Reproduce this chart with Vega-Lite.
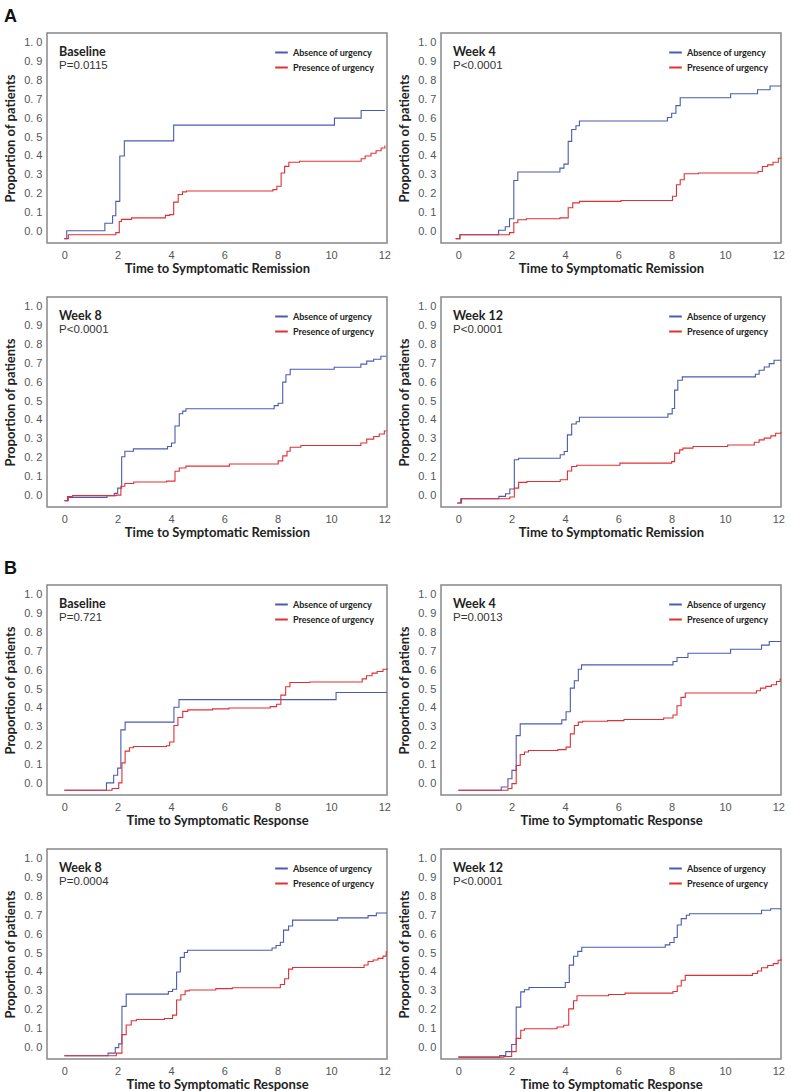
{
"$schema": "https://vega.github.io/schema/vega-lite/v6.json",
"padding": {"left": 3, "top": 8, "right": 3, "bottom": 3},
"background": "white",
"spacing": 20,
"resolve": {"scale": {"color": "independent"}, "legend": {"color": "independent"}},
"datasets": {
"info": [
{"panel":"A1","week":"Baseline","pval":"P=0.0115"},
{"panel":"A2","week":"Week 4","pval":"P<0.0001"},
{"panel":"A3","week":"Week 8","pval":"P<0.0001"},
{"panel":"A4","week":"Week 12","pval":"P<0.0001"},
{"panel":"B1","week":"Baseline","pval":"P=0.721"},
{"panel":"B2","week":"Week 4","pval":"P=0.0013"},
{"panel":"B3","week":"Week 8","pval":"P=0.0004"},
{"panel":"B4","week":"Week 12","pval":"P<0.0001"}
],
"km": [
{"panel":"A1","group":"Absence","t":0,"p":-0.037},{"panel":"A1","group":"Absence","t":0.09,"p":0.005},{"panel":"A1","group":"Absence","t":1.52,"p":0.044},{"panel":"A1","group":"Absence","t":1.81,"p":0.084},{"panel":"A1","group":"Absence","t":1.93,"p":0.16},{"panel":"A1","group":"Absence","t":2.08,"p":0.40},{"panel":"A1","group":"Absence","t":2.25,"p":0.48},{"panel":"A1","group":"Absence","t":4.1,"p":0.563},{"panel":"A1","group":"Absence","t":10.13,"p":0.60},{"panel":"A1","group":"Absence","t":11.13,"p":0.64},{"panel":"A1","group":"Absence","t":12.02,"p":0.64},
{"panel":"A1","group":"Presence","t":0,"p":-0.037},{"panel":"A1","group":"Presence","t":0.15,"p":-0.016},{"panel":"A1","group":"Presence","t":1.93,"p":-0.005},{"panel":"A1","group":"Presence","t":2.06,"p":0.054},{"panel":"A1","group":"Presence","t":2.14,"p":0.065},{"panel":"A1","group":"Presence","t":2.52,"p":0.073},{"panel":"A1","group":"Presence","t":3.79,"p":0.086},{"panel":"A1","group":"Presence","t":3.95,"p":0.09},{"panel":"A1","group":"Presence","t":4.1,"p":0.156},{"panel":"A1","group":"Presence","t":4.27,"p":0.196},{"panel":"A1","group":"Presence","t":4.43,"p":0.21},{"panel":"A1","group":"Presence","t":4.58,"p":0.215},{"panel":"A1","group":"Presence","t":7.82,"p":0.222},{"panel":"A1","group":"Presence","t":7.97,"p":0.24},{"panel":"A1","group":"Presence","t":8.13,"p":0.31},{"panel":"A1","group":"Presence","t":8.26,"p":0.345},{"panel":"A1","group":"Presence","t":8.42,"p":0.367},{"panel":"A1","group":"Presence","t":8.82,"p":0.372},{"panel":"A1","group":"Presence","t":11.13,"p":0.385},{"panel":"A1","group":"Presence","t":11.28,"p":0.40},{"panel":"A1","group":"Presence","t":11.5,"p":0.414},{"panel":"A1","group":"Presence","t":11.69,"p":0.428},{"panel":"A1","group":"Presence","t":11.88,"p":0.442},{"panel":"A1","group":"Presence","t":12.02,"p":0.455},
{"panel":"A2","group":"Absence","t":-0.1,"p":-0.037},{"panel":"A2","group":"Absence","t":0.06,"p":-0.016},{"panel":"A2","group":"Absence","t":1.51,"p":0.007},{"panel":"A2","group":"Absence","t":1.76,"p":0.026},{"panel":"A2","group":"Absence","t":1.92,"p":0.068},{"panel":"A2","group":"Absence","t":2.08,"p":0.27},{"panel":"A2","group":"Absence","t":2.23,"p":0.315},{"panel":"A2","group":"Absence","t":3.81,"p":0.336},{"panel":"A2","group":"Absence","t":3.96,"p":0.357},{"panel":"A2","group":"Absence","t":4.12,"p":0.477},{"panel":"A2","group":"Absence","t":4.25,"p":0.54},{"panel":"A2","group":"Absence","t":4.41,"p":0.56},{"panel":"A2","group":"Absence","t":4.54,"p":0.585},{"panel":"A2","group":"Absence","t":7.84,"p":0.603},{"panel":"A2","group":"Absence","t":8.0,"p":0.626},{"panel":"A2","group":"Absence","t":8.16,"p":0.666},{"panel":"A2","group":"Absence","t":8.32,"p":0.708},{"panel":"A2","group":"Absence","t":10.21,"p":0.729},{"panel":"A2","group":"Absence","t":11.22,"p":0.75},{"panel":"A2","group":"Absence","t":11.69,"p":0.77},{"panel":"A2","group":"Absence","t":12.1,"p":0.77},
{"panel":"A2","group":"Presence","t":-0.1,"p":-0.037},{"panel":"A2","group":"Presence","t":0.06,"p":-0.016},{"panel":"A2","group":"Presence","t":1.92,"p":-0.005},{"panel":"A2","group":"Presence","t":2.08,"p":0.047},{"panel":"A2","group":"Presence","t":2.23,"p":0.063},{"panel":"A2","group":"Presence","t":2.55,"p":0.068},{"panel":"A2","group":"Presence","t":3.81,"p":0.073},{"panel":"A2","group":"Presence","t":4.12,"p":0.126},{"panel":"A2","group":"Presence","t":4.29,"p":0.152},{"panel":"A2","group":"Presence","t":4.54,"p":0.16},{"panel":"A2","group":"Presence","t":6.1,"p":0.165},{"panel":"A2","group":"Presence","t":8.03,"p":0.187},{"panel":"A2","group":"Presence","t":8.18,"p":0.248},{"panel":"A2","group":"Presence","t":8.32,"p":0.274},{"panel":"A2","group":"Presence","t":8.47,"p":0.306},{"panel":"A2","group":"Presence","t":9.0,"p":0.31},{"panel":"A2","group":"Presence","t":11.24,"p":0.318},{"panel":"A2","group":"Presence","t":11.4,"p":0.344},{"panel":"A2","group":"Presence","t":11.6,"p":0.353},{"panel":"A2","group":"Presence","t":11.8,"p":0.367},{"panel":"A2","group":"Presence","t":12.0,"p":0.388},{"panel":"A2","group":"Presence","t":12.1,"p":0.39},
{"panel":"A3","group":"Absence","t":0,"p":-0.027},{"panel":"A3","group":"Absence","t":0.15,"p":-0.009},{"panel":"A3","group":"Absence","t":1.6,"p":0.0},{"panel":"A3","group":"Absence","t":1.87,"p":0.012},{"panel":"A3","group":"Absence","t":2.0,"p":0.04},{"panel":"A3","group":"Absence","t":2.15,"p":0.206},{"panel":"A3","group":"Absence","t":2.27,"p":0.235},{"panel":"A3","group":"Absence","t":2.59,"p":0.247},{"panel":"A3","group":"Absence","t":3.87,"p":0.26},{"panel":"A3","group":"Absence","t":4.02,"p":0.278},{"panel":"A3","group":"Absence","t":4.15,"p":0.368},{"panel":"A3","group":"Absence","t":4.31,"p":0.433},{"panel":"A3","group":"Absence","t":4.44,"p":0.447},{"panel":"A3","group":"Absence","t":4.56,"p":0.459},{"panel":"A3","group":"Absence","t":7.87,"p":0.476},{"panel":"A3","group":"Absence","t":8.02,"p":0.488},{"panel":"A3","group":"Absence","t":8.19,"p":0.60},{"panel":"A3","group":"Absence","t":8.31,"p":0.639},{"panel":"A3","group":"Absence","t":8.47,"p":0.668},{"panel":"A3","group":"Absence","t":10.12,"p":0.679},{"panel":"A3","group":"Absence","t":11.12,"p":0.695},{"panel":"A3","group":"Absence","t":11.34,"p":0.711},{"panel":"A3","group":"Absence","t":11.6,"p":0.721},{"panel":"A3","group":"Absence","t":11.87,"p":0.737},{"panel":"A3","group":"Absence","t":12.06,"p":0.74},
{"panel":"A3","group":"Presence","t":0,"p":-0.027},{"panel":"A3","group":"Presence","t":0.12,"p":-0.005},{"panel":"A3","group":"Presence","t":0.31,"p":0.0},{"panel":"A3","group":"Presence","t":1.94,"p":0.003},{"panel":"A3","group":"Presence","t":2.12,"p":0.05},{"panel":"A3","group":"Presence","t":2.27,"p":0.064},{"panel":"A3","group":"Presence","t":2.6,"p":0.072},{"panel":"A3","group":"Presence","t":3.84,"p":0.077},{"panel":"A3","group":"Presence","t":4.15,"p":0.129},{"panel":"A3","group":"Presence","t":4.31,"p":0.146},{"panel":"A3","group":"Presence","t":4.56,"p":0.156},{"panel":"A3","group":"Presence","t":6.19,"p":0.167},{"panel":"A3","group":"Presence","t":8.02,"p":0.184},{"panel":"A3","group":"Presence","t":8.19,"p":0.21},{"panel":"A3","group":"Presence","t":8.35,"p":0.235},{"panel":"A3","group":"Presence","t":8.47,"p":0.256},{"panel":"A3","group":"Presence","t":8.87,"p":0.265},{"panel":"A3","group":"Presence","t":11.12,"p":0.278},{"panel":"A3","group":"Presence","t":11.34,"p":0.299},{"panel":"A3","group":"Presence","t":11.6,"p":0.313},{"panel":"A3","group":"Presence","t":11.81,"p":0.326},{"panel":"A3","group":"Presence","t":12.0,"p":0.342},{"panel":"A3","group":"Presence","t":12.06,"p":0.345},
{"panel":"A4","group":"Absence","t":-0.04,"p":-0.039},{"panel":"A4","group":"Absence","t":0.09,"p":-0.016},{"panel":"A4","group":"Absence","t":1.52,"p":-0.004},{"panel":"A4","group":"Absence","t":1.77,"p":0.01},{"panel":"A4","group":"Absence","t":1.93,"p":0.035},{"panel":"A4","group":"Absence","t":2.1,"p":0.19},{"panel":"A4","group":"Absence","t":2.26,"p":0.198},{"panel":"A4","group":"Absence","t":3.82,"p":0.216},{"panel":"A4","group":"Absence","t":3.97,"p":0.233},{"panel":"A4","group":"Absence","t":4.09,"p":0.321},{"panel":"A4","group":"Absence","t":4.25,"p":0.379},{"panel":"A4","group":"Absence","t":4.42,"p":0.391},{"panel":"A4","group":"Absence","t":4.54,"p":0.414},{"panel":"A4","group":"Absence","t":7.86,"p":0.432},{"panel":"A4","group":"Absence","t":8.02,"p":0.461},{"panel":"A4","group":"Absence","t":8.11,"p":0.558},{"panel":"A4","group":"Absence","t":8.23,"p":0.61},{"panel":"A4","group":"Absence","t":8.4,"p":0.628},{"panel":"A4","group":"Absence","t":11.14,"p":0.642},{"panel":"A4","group":"Absence","t":11.28,"p":0.663},{"panel":"A4","group":"Absence","t":11.47,"p":0.68},{"panel":"A4","group":"Absence","t":11.66,"p":0.698},{"panel":"A4","group":"Absence","t":11.84,"p":0.716},{"panel":"A4","group":"Absence","t":12.1,"p":0.716},
{"panel":"A4","group":"Presence","t":-0.04,"p":-0.039},{"panel":"A4","group":"Presence","t":0.12,"p":-0.016},{"panel":"A4","group":"Presence","t":1.93,"p":-0.007},{"panel":"A4","group":"Presence","t":2.1,"p":0.04},{"panel":"A4","group":"Presence","t":2.26,"p":0.07},{"panel":"A4","group":"Presence","t":2.57,"p":0.075},{"panel":"A4","group":"Presence","t":3.82,"p":0.084},{"panel":"A4","group":"Presence","t":4.09,"p":0.13},{"panel":"A4","group":"Presence","t":4.25,"p":0.154},{"panel":"A4","group":"Presence","t":4.44,"p":0.161},{"panel":"A4","group":"Presence","t":6.06,"p":0.172},{"panel":"A4","group":"Presence","t":8.0,"p":0.18},{"panel":"A4","group":"Presence","t":8.11,"p":0.225},{"panel":"A4","group":"Presence","t":8.3,"p":0.242},{"panel":"A4","group":"Presence","t":8.42,"p":0.251},{"panel":"A4","group":"Presence","t":8.8,"p":0.26},{"panel":"A4","group":"Presence","t":10.1,"p":0.268},{"panel":"A4","group":"Presence","t":11.1,"p":0.282},{"panel":"A4","group":"Presence","t":11.28,"p":0.295},{"panel":"A4","group":"Presence","t":11.47,"p":0.304},{"panel":"A4","group":"Presence","t":11.72,"p":0.316},{"panel":"A4","group":"Presence","t":11.9,"p":0.33},{"panel":"A4","group":"Presence","t":12.1,"p":0.335},
{"panel":"B1","group":"Absence","t":0,"p":-0.035},{"panel":"B1","group":"Absence","t":1.58,"p":0.004},{"panel":"B1","group":"Absence","t":1.85,"p":0.044},{"panel":"B1","group":"Absence","t":2.0,"p":0.082},{"panel":"B1","group":"Absence","t":2.12,"p":0.284},{"panel":"B1","group":"Absence","t":2.28,"p":0.325},{"panel":"B1","group":"Absence","t":4.11,"p":0.404},{"panel":"B1","group":"Absence","t":4.3,"p":0.444},{"panel":"B1","group":"Absence","t":10.19,"p":0.482},{"panel":"B1","group":"Absence","t":12.1,"p":0.482},
{"panel":"B1","group":"Presence","t":0,"p":-0.035},{"panel":"B1","group":"Presence","t":1.79,"p":-0.026},{"panel":"B1","group":"Presence","t":2.04,"p":0.004},{"panel":"B1","group":"Presence","t":2.16,"p":0.11},{"panel":"B1","group":"Presence","t":2.28,"p":0.172},{"panel":"B1","group":"Presence","t":2.44,"p":0.19},{"panel":"B1","group":"Presence","t":2.59,"p":0.196},{"panel":"B1","group":"Presence","t":3.83,"p":0.2},{"panel":"B1","group":"Presence","t":3.95,"p":0.22},{"panel":"B1","group":"Presence","t":4.11,"p":0.307},{"panel":"B1","group":"Presence","t":4.26,"p":0.35},{"panel":"B1","group":"Presence","t":4.44,"p":0.382},{"panel":"B1","group":"Presence","t":4.63,"p":0.39},{"panel":"B1","group":"Presence","t":5.56,"p":0.395},{"panel":"B1","group":"Presence","t":6.17,"p":0.4},{"panel":"B1","group":"Presence","t":7.72,"p":0.407},{"panel":"B1","group":"Presence","t":7.96,"p":0.42},{"panel":"B1","group":"Presence","t":8.12,"p":0.468},{"panel":"B1","group":"Presence","t":8.3,"p":0.512},{"panel":"B1","group":"Presence","t":8.46,"p":0.535},{"panel":"B1","group":"Presence","t":9.2,"p":0.537},{"panel":"B1","group":"Presence","t":11.17,"p":0.554},{"panel":"B1","group":"Presence","t":11.33,"p":0.57},{"panel":"B1","group":"Presence","t":11.54,"p":0.584},{"panel":"B1","group":"Presence","t":11.73,"p":0.593},{"panel":"B1","group":"Presence","t":11.95,"p":0.605},{"panel":"B1","group":"Presence","t":12.1,"p":0.61},
{"panel":"B2","group":"Absence","t":0,"p":-0.035},{"panel":"B2","group":"Absence","t":1.61,"p":-0.018},{"panel":"B2","group":"Absence","t":1.86,"p":0.026},{"panel":"B2","group":"Absence","t":2.01,"p":0.07},{"panel":"B2","group":"Absence","t":2.17,"p":0.254},{"panel":"B2","group":"Absence","t":2.32,"p":0.316},{"panel":"B2","group":"Absence","t":3.88,"p":0.337},{"panel":"B2","group":"Absence","t":4.04,"p":0.38},{"panel":"B2","group":"Absence","t":4.2,"p":0.505},{"panel":"B2","group":"Absence","t":4.35,"p":0.544},{"panel":"B2","group":"Absence","t":4.5,"p":0.605},{"panel":"B2","group":"Absence","t":4.62,"p":0.628},{"panel":"B2","group":"Absence","t":8.05,"p":0.646},{"panel":"B2","group":"Absence","t":8.2,"p":0.667},{"panel":"B2","group":"Absence","t":8.61,"p":0.689},{"panel":"B2","group":"Absence","t":10.21,"p":0.71},{"panel":"B2","group":"Absence","t":11.37,"p":0.732},{"panel":"B2","group":"Absence","t":11.66,"p":0.751},{"panel":"B2","group":"Absence","t":12.1,"p":0.751},
{"panel":"B2","group":"Presence","t":0,"p":-0.035},{"panel":"B2","group":"Presence","t":1.86,"p":-0.026},{"panel":"B2","group":"Presence","t":2.01,"p":0.0},{"panel":"B2","group":"Presence","t":2.17,"p":0.096},{"panel":"B2","group":"Presence","t":2.32,"p":0.154},{"panel":"B2","group":"Presence","t":2.48,"p":0.167},{"panel":"B2","group":"Presence","t":2.63,"p":0.175},{"panel":"B2","group":"Presence","t":3.73,"p":0.18},{"panel":"B2","group":"Presence","t":4.04,"p":0.193},{"panel":"B2","group":"Presence","t":4.2,"p":0.263},{"panel":"B2","group":"Presence","t":4.35,"p":0.307},{"panel":"B2","group":"Presence","t":4.5,"p":0.325},{"panel":"B2","group":"Presence","t":4.66,"p":0.33},{"panel":"B2","group":"Presence","t":5.59,"p":0.333},{"panel":"B2","group":"Presence","t":6.21,"p":0.339},{"panel":"B2","group":"Presence","t":7.7,"p":0.347},{"panel":"B2","group":"Presence","t":8.05,"p":0.363},{"panel":"B2","group":"Presence","t":8.2,"p":0.412},{"panel":"B2","group":"Presence","t":8.35,"p":0.456},{"panel":"B2","group":"Presence","t":8.51,"p":0.479},{"panel":"B2","group":"Presence","t":11.18,"p":0.491},{"panel":"B2","group":"Presence","t":11.33,"p":0.505},{"panel":"B2","group":"Presence","t":11.53,"p":0.514},{"panel":"B2","group":"Presence","t":11.74,"p":0.523},{"panel":"B2","group":"Presence","t":11.93,"p":0.54},{"panel":"B2","group":"Presence","t":12.07,"p":0.553},{"panel":"B2","group":"Presence","t":12.1,"p":0.553},
{"panel":"B3","group":"Absence","t":0,"p":-0.043},{"panel":"B3","group":"Absence","t":1.64,"p":-0.029},{"panel":"B3","group":"Absence","t":1.91,"p":0.0},{"panel":"B3","group":"Absence","t":2.04,"p":0.02},{"panel":"B3","group":"Absence","t":2.16,"p":0.218},{"panel":"B3","group":"Absence","t":2.32,"p":0.283},{"panel":"B3","group":"Absence","t":3.9,"p":0.297},{"panel":"B3","group":"Absence","t":4.06,"p":0.309},{"panel":"B3","group":"Absence","t":4.21,"p":0.4},{"panel":"B3","group":"Absence","t":4.35,"p":0.477},{"panel":"B3","group":"Absence","t":4.5,"p":0.503},{"panel":"B3","group":"Absence","t":4.62,"p":0.515},{"panel":"B3","group":"Absence","t":7.79,"p":0.527},{"panel":"B3","group":"Absence","t":7.94,"p":0.54},{"panel":"B3","group":"Absence","t":8.1,"p":0.557},{"panel":"B3","group":"Absence","t":8.22,"p":0.621},{"panel":"B3","group":"Absence","t":8.41,"p":0.643},{"panel":"B3","group":"Absence","t":8.56,"p":0.674},{"panel":"B3","group":"Absence","t":10.25,"p":0.686},{"panel":"B3","group":"Absence","t":11.39,"p":0.698},{"panel":"B3","group":"Absence","t":11.7,"p":0.712},{"panel":"B3","group":"Absence","t":12.1,"p":0.712},
{"panel":"B3","group":"Presence","t":0,"p":-0.043},{"panel":"B3","group":"Presence","t":1.95,"p":-0.029},{"panel":"B3","group":"Presence","t":2.16,"p":0.069},{"panel":"B3","group":"Presence","t":2.32,"p":0.12},{"panel":"B3","group":"Presence","t":2.51,"p":0.142},{"panel":"B3","group":"Presence","t":2.7,"p":0.149},{"panel":"B3","group":"Presence","t":3.75,"p":0.154},{"panel":"B3","group":"Presence","t":4.06,"p":0.172},{"panel":"B3","group":"Presence","t":4.21,"p":0.252},{"panel":"B3","group":"Presence","t":4.37,"p":0.28},{"panel":"B3","group":"Presence","t":4.53,"p":0.3},{"panel":"B3","group":"Presence","t":4.68,"p":0.305},{"panel":"B3","group":"Presence","t":5.68,"p":0.312},{"panel":"B3","group":"Presence","t":6.3,"p":0.317},{"panel":"B3","group":"Presence","t":8.1,"p":0.334},{"panel":"B3","group":"Presence","t":8.26,"p":0.364},{"panel":"B3","group":"Presence","t":8.41,"p":0.415},{"panel":"B3","group":"Presence","t":8.56,"p":0.424},{"panel":"B3","group":"Presence","t":11.24,"p":0.437},{"panel":"B3","group":"Presence","t":11.39,"p":0.455},{"panel":"B3","group":"Presence","t":11.58,"p":0.463},{"panel":"B3","group":"Presence","t":11.76,"p":0.472},{"panel":"B3","group":"Presence","t":11.95,"p":0.484},{"panel":"B3","group":"Presence","t":12.07,"p":0.506},{"panel":"B3","group":"Presence","t":12.1,"p":0.506},
{"panel":"B4","group":"Absence","t":0,"p":-0.05},{"panel":"B4","group":"Absence","t":1.55,"p":-0.042},{"panel":"B4","group":"Absence","t":1.78,"p":-0.021},{"panel":"B4","group":"Absence","t":2.0,"p":0.017},{"panel":"B4","group":"Absence","t":2.17,"p":0.214},{"panel":"B4","group":"Absence","t":2.34,"p":0.295},{"panel":"B4","group":"Absence","t":2.48,"p":0.306},{"panel":"B4","group":"Absence","t":2.65,"p":0.318},{"panel":"B4","group":"Absence","t":4.01,"p":0.344},{"panel":"B4","group":"Absence","t":4.16,"p":0.436},{"panel":"B4","group":"Absence","t":4.32,"p":0.483},{"panel":"B4","group":"Absence","t":4.48,"p":0.509},{"panel":"B4","group":"Absence","t":4.63,"p":0.531},{"panel":"B4","group":"Absence","t":7.76,"p":0.543},{"panel":"B4","group":"Absence","t":7.93,"p":0.556},{"panel":"B4","group":"Absence","t":8.09,"p":0.582},{"panel":"B4","group":"Absence","t":8.21,"p":0.648},{"panel":"B4","group":"Absence","t":8.36,"p":0.682},{"panel":"B4","group":"Absence","t":8.55,"p":0.70},{"panel":"B4","group":"Absence","t":8.67,"p":0.708},{"panel":"B4","group":"Absence","t":11.37,"p":0.726},{"panel":"B4","group":"Absence","t":11.71,"p":0.734},{"panel":"B4","group":"Absence","t":12.1,"p":0.734},
{"panel":"B4","group":"Presence","t":0,"p":-0.05},{"panel":"B4","group":"Presence","t":1.71,"p":-0.047},{"panel":"B4","group":"Presence","t":2.0,"p":-0.021},{"panel":"B4","group":"Presence","t":2.17,"p":0.049},{"panel":"B4","group":"Presence","t":2.34,"p":0.092},{"panel":"B4","group":"Presence","t":2.48,"p":0.10},{"panel":"B4","group":"Presence","t":3.7,"p":0.109},{"panel":"B4","group":"Presence","t":3.95,"p":0.118},{"panel":"B4","group":"Presence","t":4.14,"p":0.205},{"panel":"B4","group":"Presence","t":4.32,"p":0.248},{"panel":"B4","group":"Presence","t":4.45,"p":0.274},{"panel":"B4","group":"Presence","t":5.63,"p":0.281},{"panel":"B4","group":"Presence","t":6.25,"p":0.288},{"panel":"B4","group":"Presence","t":8.05,"p":0.297},{"panel":"B4","group":"Presence","t":8.21,"p":0.326},{"panel":"B4","group":"Presence","t":8.36,"p":0.356},{"panel":"B4","group":"Presence","t":8.51,"p":0.382},{"panel":"B4","group":"Presence","t":11.03,"p":0.392},{"panel":"B4","group":"Presence","t":11.22,"p":0.405},{"panel":"B4","group":"Presence","t":11.37,"p":0.422},{"panel":"B4","group":"Presence","t":11.6,"p":0.434},{"panel":"B4","group":"Presence","t":11.81,"p":0.444},{"panel":"B4","group":"Presence","t":11.99,"p":0.462},{"panel":"B4","group":"Presence","t":12.1,"p":0.47}
]
},
"vconcat": [
{"title": "A", "spacing": 5, "resolve": {"scale": {"color": "independent"}, "legend": {"color": "independent"}}, "hconcat": [
 {"width": 340, "height": 210, "layer": [
  {"data": {"name": "km"}, "transform": [{"filter": "datum.panel == 'A1'"}], "mark": {"type": "line", "interpolate": "step-after", "strokeWidth": 1.1},
   "encoding": {"x": {"field": "t", "type": "quantitative", "scale": {"domain": [-0.65, 12.1], "nice": false, "zero": false}, "axis": {"title": "Time to Symptomatic Remission", "values": [0,2,4,6,8,10,12]}},
    "y": {"field": "p", "type": "quantitative", "scale": {"domain": [-0.06, 1.05], "nice": false, "zero": false}, "axis": {"title": "Proportion of patients", "values": [0,0.1,0.2,0.3,0.4,0.5,0.6,0.7,0.8,0.9,1], "labelOverlap": false, "labelExpr": "replace(format(datum.value, '.1f'), '.', '. ')"}},
    "color": {"field": "group", "type": "nominal", "title": null, "scale": {"domain": ["Absence","Presence"], "range": ["#4b5bb0","#e03035"]}, "legend": {"labelExpr": "datum.label + ' of urgency'"}}}},
  {"data": {"name": "info"}, "transform": [{"filter": "datum.panel == 'A1'"}], "mark": {"type": "text", "align": "left", "baseline": "middle", "font": "Lato", "fontSize": 12.5, "fontWeight": "bold", "color": "#222"},
   "encoding": {"x": {"datum": -0.2, "axis": {"title": "Time to Symptomatic Remission", "values": [0,2,4,6,8,10,12]}}, "y": {"datum": 0.947, "axis": {"title": "Proportion of patients", "values": [0,0.1,0.2,0.3,0.4,0.5,0.6,0.7,0.8,0.9,1], "labelOverlap": false, "labelExpr": "replace(format(datum.value, '.1f'), '.', '. ')"}}, "text": {"field": "week"}}},
  {"data": {"name": "info"}, "transform": [{"filter": "datum.panel == 'A1'"}], "mark": {"type": "text", "align": "left", "baseline": "middle", "font": "Liberation Sans", "fontSize": 11.5, "color": "#333"},
   "encoding": {"x": {"datum": -0.2, "axis": {"title": "Time to Symptomatic Remission", "values": [0,2,4,6,8,10,12]}}, "y": {"datum": 0.874, "axis": {"title": "Proportion of patients", "values": [0,0.1,0.2,0.3,0.4,0.5,0.6,0.7,0.8,0.9,1], "labelOverlap": false, "labelExpr": "replace(format(datum.value, '.1f'), '.', '. ')"}}, "text": {"field": "pval"}}}
 ]},
 {"width": 340, "height": 210, "layer": [
  {"data": {"name": "km"}, "transform": [{"filter": "datum.panel == 'A2'"}], "mark": {"type": "line", "interpolate": "step-after", "strokeWidth": 1.1},
   "encoding": {"x": {"field": "t", "type": "quantitative", "scale": {"domain": [-0.65, 12.1], "nice": false, "zero": false}, "axis": {"title": "Time to Symptomatic Remission", "values": [0,2,4,6,8,10,12]}},
    "y": {"field": "p", "type": "quantitative", "scale": {"domain": [-0.06, 1.05], "nice": false, "zero": false}, "axis": {"title": "Proportion of patients", "values": [0,0.1,0.2,0.3,0.4,0.5,0.6,0.7,0.8,0.9,1], "labelOverlap": false, "labelExpr": "replace(format(datum.value, '.1f'), '.', '. ')"}},
    "color": {"field": "group", "type": "nominal", "title": null, "scale": {"domain": ["Absence","Presence"], "range": ["#4b5bb0","#e03035"]}, "legend": {"labelExpr": "datum.label + ' of urgency'"}}}},
  {"data": {"name": "info"}, "transform": [{"filter": "datum.panel == 'A2'"}], "mark": {"type": "text", "align": "left", "baseline": "middle", "font": "Lato", "fontSize": 12.5, "fontWeight": "bold", "color": "#222"},
   "encoding": {"x": {"datum": -0.2, "axis": {"title": "Time to Symptomatic Remission", "values": [0,2,4,6,8,10,12]}}, "y": {"datum": 0.947, "axis": {"title": "Proportion of patients", "values": [0,0.1,0.2,0.3,0.4,0.5,0.6,0.7,0.8,0.9,1], "labelOverlap": false, "labelExpr": "replace(format(datum.value, '.1f'), '.', '. ')"}}, "text": {"field": "week"}}},
  {"data": {"name": "info"}, "transform": [{"filter": "datum.panel == 'A2'"}], "mark": {"type": "text", "align": "left", "baseline": "middle", "font": "Liberation Sans", "fontSize": 11.5, "color": "#333"},
   "encoding": {"x": {"datum": -0.2, "axis": {"title": "Time to Symptomatic Remission", "values": [0,2,4,6,8,10,12]}}, "y": {"datum": 0.874, "axis": {"title": "Proportion of patients", "values": [0,0.1,0.2,0.3,0.4,0.5,0.6,0.7,0.8,0.9,1], "labelOverlap": false, "labelExpr": "replace(format(datum.value, '.1f'), '.', '. ')"}}, "text": {"field": "pval"}}}
 ]}
]},
{"spacing": 5, "resolve": {"scale": {"color": "independent"}, "legend": {"color": "independent"}}, "hconcat": [
 {"width": 340, "height": 210, "layer": [
  {"data": {"name": "km"}, "transform": [{"filter": "datum.panel == 'A3'"}], "mark": {"type": "line", "interpolate": "step-after", "strokeWidth": 1.1},
   "encoding": {"x": {"field": "t", "type": "quantitative", "scale": {"domain": [-0.65, 12.1], "nice": false, "zero": false}, "axis": {"title": "Time to Symptomatic Remission", "values": [0,2,4,6,8,10,12]}},
    "y": {"field": "p", "type": "quantitative", "scale": {"domain": [-0.06, 1.05], "nice": false, "zero": false}, "axis": {"title": "Proportion of patients", "values": [0,0.1,0.2,0.3,0.4,0.5,0.6,0.7,0.8,0.9,1], "labelOverlap": false, "labelExpr": "replace(format(datum.value, '.1f'), '.', '. ')"}},
    "color": {"field": "group", "type": "nominal", "title": null, "scale": {"domain": ["Absence","Presence"], "range": ["#4b5bb0","#e03035"]}, "legend": {"labelExpr": "datum.label + ' of urgency'"}}}},
  {"data": {"name": "info"}, "transform": [{"filter": "datum.panel == 'A3'"}], "mark": {"type": "text", "align": "left", "baseline": "middle", "font": "Lato", "fontSize": 12.5, "fontWeight": "bold", "color": "#222"},
   "encoding": {"x": {"datum": -0.2, "axis": {"title": "Time to Symptomatic Remission", "values": [0,2,4,6,8,10,12]}}, "y": {"datum": 0.947, "axis": {"title": "Proportion of patients", "values": [0,0.1,0.2,0.3,0.4,0.5,0.6,0.7,0.8,0.9,1], "labelOverlap": false, "labelExpr": "replace(format(datum.value, '.1f'), '.', '. ')"}}, "text": {"field": "week"}}},
  {"data": {"name": "info"}, "transform": [{"filter": "datum.panel == 'A3'"}], "mark": {"type": "text", "align": "left", "baseline": "middle", "font": "Liberation Sans", "fontSize": 11.5, "color": "#333"},
   "encoding": {"x": {"datum": -0.2, "axis": {"title": "Time to Symptomatic Remission", "values": [0,2,4,6,8,10,12]}}, "y": {"datum": 0.874, "axis": {"title": "Proportion of patients", "values": [0,0.1,0.2,0.3,0.4,0.5,0.6,0.7,0.8,0.9,1], "labelOverlap": false, "labelExpr": "replace(format(datum.value, '.1f'), '.', '. ')"}}, "text": {"field": "pval"}}}
 ]},
 {"width": 340, "height": 210, "layer": [
  {"data": {"name": "km"}, "transform": [{"filter": "datum.panel == 'A4'"}], "mark": {"type": "line", "interpolate": "step-after", "strokeWidth": 1.1},
   "encoding": {"x": {"field": "t", "type": "quantitative", "scale": {"domain": [-0.65, 12.1], "nice": false, "zero": false}, "axis": {"title": "Time to Symptomatic Remission", "values": [0,2,4,6,8,10,12]}},
    "y": {"field": "p", "type": "quantitative", "scale": {"domain": [-0.06, 1.05], "nice": false, "zero": false}, "axis": {"title": "Proportion of patients", "values": [0,0.1,0.2,0.3,0.4,0.5,0.6,0.7,0.8,0.9,1], "labelOverlap": false, "labelExpr": "replace(format(datum.value, '.1f'), '.', '. ')"}},
    "color": {"field": "group", "type": "nominal", "title": null, "scale": {"domain": ["Absence","Presence"], "range": ["#4b5bb0","#e03035"]}, "legend": {"labelExpr": "datum.label + ' of urgency'"}}}},
  {"data": {"name": "info"}, "transform": [{"filter": "datum.panel == 'A4'"}], "mark": {"type": "text", "align": "left", "baseline": "middle", "font": "Lato", "fontSize": 12.5, "fontWeight": "bold", "color": "#222"},
   "encoding": {"x": {"datum": -0.2, "axis": {"title": "Time to Symptomatic Remission", "values": [0,2,4,6,8,10,12]}}, "y": {"datum": 0.947, "axis": {"title": "Proportion of patients", "values": [0,0.1,0.2,0.3,0.4,0.5,0.6,0.7,0.8,0.9,1], "labelOverlap": false, "labelExpr": "replace(format(datum.value, '.1f'), '.', '. ')"}}, "text": {"field": "week"}}},
  {"data": {"name": "info"}, "transform": [{"filter": "datum.panel == 'A4'"}], "mark": {"type": "text", "align": "left", "baseline": "middle", "font": "Liberation Sans", "fontSize": 11.5, "color": "#333"},
   "encoding": {"x": {"datum": -0.2, "axis": {"title": "Time to Symptomatic Remission", "values": [0,2,4,6,8,10,12]}}, "y": {"datum": 0.874, "axis": {"title": "Proportion of patients", "values": [0,0.1,0.2,0.3,0.4,0.5,0.6,0.7,0.8,0.9,1], "labelOverlap": false, "labelExpr": "replace(format(datum.value, '.1f'), '.', '. ')"}}, "text": {"field": "pval"}}}
 ]}
]},
{"title": "B", "spacing": 5, "resolve": {"scale": {"color": "independent"}, "legend": {"color": "independent"}}, "hconcat": [
 {"width": 340, "height": 210, "layer": [
  {"data": {"name": "km"}, "transform": [{"filter": "datum.panel == 'B1'"}], "mark": {"type": "line", "interpolate": "step-after", "strokeWidth": 1.1},
   "encoding": {"x": {"field": "t", "type": "quantitative", "scale": {"domain": [-0.65, 12.1], "nice": false, "zero": false}, "axis": {"title": "Time to Symptomatic Response", "values": [0,2,4,6,8,10,12]}},
    "y": {"field": "p", "type": "quantitative", "scale": {"domain": [-0.06, 1.05], "nice": false, "zero": false}, "axis": {"title": "Proportion of patients", "values": [0,0.1,0.2,0.3,0.4,0.5,0.6,0.7,0.8,0.9,1], "labelOverlap": false, "labelExpr": "replace(format(datum.value, '.1f'), '.', '. ')"}},
    "color": {"field": "group", "type": "nominal", "title": null, "scale": {"domain": ["Absence","Presence"], "range": ["#4b5bb0","#e03035"]}, "legend": {"labelExpr": "datum.label + ' of urgency'"}}}},
  {"data": {"name": "info"}, "transform": [{"filter": "datum.panel == 'B1'"}], "mark": {"type": "text", "align": "left", "baseline": "middle", "font": "Lato", "fontSize": 12.5, "fontWeight": "bold", "color": "#222"},
   "encoding": {"x": {"datum": -0.2, "axis": {"title": "Time to Symptomatic Response", "values": [0,2,4,6,8,10,12]}}, "y": {"datum": 0.947, "axis": {"title": "Proportion of patients", "values": [0,0.1,0.2,0.3,0.4,0.5,0.6,0.7,0.8,0.9,1], "labelOverlap": false, "labelExpr": "replace(format(datum.value, '.1f'), '.', '. ')"}}, "text": {"field": "week"}}},
  {"data": {"name": "info"}, "transform": [{"filter": "datum.panel == 'B1'"}], "mark": {"type": "text", "align": "left", "baseline": "middle", "font": "Liberation Sans", "fontSize": 11.5, "color": "#333"},
   "encoding": {"x": {"datum": -0.2, "axis": {"title": "Time to Symptomatic Response", "values": [0,2,4,6,8,10,12]}}, "y": {"datum": 0.874, "axis": {"title": "Proportion of patients", "values": [0,0.1,0.2,0.3,0.4,0.5,0.6,0.7,0.8,0.9,1], "labelOverlap": false, "labelExpr": "replace(format(datum.value, '.1f'), '.', '. ')"}}, "text": {"field": "pval"}}}
 ]},
 {"width": 340, "height": 210, "layer": [
  {"data": {"name": "km"}, "transform": [{"filter": "datum.panel == 'B2'"}], "mark": {"type": "line", "interpolate": "step-after", "strokeWidth": 1.1},
   "encoding": {"x": {"field": "t", "type": "quantitative", "scale": {"domain": [-0.65, 12.1], "nice": false, "zero": false}, "axis": {"title": "Time to Symptomatic Response", "values": [0,2,4,6,8,10,12]}},
    "y": {"field": "p", "type": "quantitative", "scale": {"domain": [-0.06, 1.05], "nice": false, "zero": false}, "axis": {"title": "Proportion of patients", "values": [0,0.1,0.2,0.3,0.4,0.5,0.6,0.7,0.8,0.9,1], "labelOverlap": false, "labelExpr": "replace(format(datum.value, '.1f'), '.', '. ')"}},
    "color": {"field": "group", "type": "nominal", "title": null, "scale": {"domain": ["Absence","Presence"], "range": ["#4b5bb0","#e03035"]}, "legend": {"labelExpr": "datum.label + ' of urgency'"}}}},
  {"data": {"name": "info"}, "transform": [{"filter": "datum.panel == 'B2'"}], "mark": {"type": "text", "align": "left", "baseline": "middle", "font": "Lato", "fontSize": 12.5, "fontWeight": "bold", "color": "#222"},
   "encoding": {"x": {"datum": -0.2, "axis": {"title": "Time to Symptomatic Response", "values": [0,2,4,6,8,10,12]}}, "y": {"datum": 0.947, "axis": {"title": "Proportion of patients", "values": [0,0.1,0.2,0.3,0.4,0.5,0.6,0.7,0.8,0.9,1], "labelOverlap": false, "labelExpr": "replace(format(datum.value, '.1f'), '.', '. ')"}}, "text": {"field": "week"}}},
  {"data": {"name": "info"}, "transform": [{"filter": "datum.panel == 'B2'"}], "mark": {"type": "text", "align": "left", "baseline": "middle", "font": "Liberation Sans", "fontSize": 11.5, "color": "#333"},
   "encoding": {"x": {"datum": -0.2, "axis": {"title": "Time to Symptomatic Response", "values": [0,2,4,6,8,10,12]}}, "y": {"datum": 0.874, "axis": {"title": "Proportion of patients", "values": [0,0.1,0.2,0.3,0.4,0.5,0.6,0.7,0.8,0.9,1], "labelOverlap": false, "labelExpr": "replace(format(datum.value, '.1f'), '.', '. ')"}}, "text": {"field": "pval"}}}
 ]}
]},
{"spacing": 5, "resolve": {"scale": {"color": "independent"}, "legend": {"color": "independent"}}, "hconcat": [
 {"width": 340, "height": 210, "layer": [
  {"data": {"name": "km"}, "transform": [{"filter": "datum.panel == 'B3'"}], "mark": {"type": "line", "interpolate": "step-after", "strokeWidth": 1.1},
   "encoding": {"x": {"field": "t", "type": "quantitative", "scale": {"domain": [-0.65, 12.1], "nice": false, "zero": false}, "axis": {"title": "Time to Symptomatic Response", "values": [0,2,4,6,8,10,12]}},
    "y": {"field": "p", "type": "quantitative", "scale": {"domain": [-0.06, 1.05], "nice": false, "zero": false}, "axis": {"title": "Proportion of patients", "values": [0,0.1,0.2,0.3,0.4,0.5,0.6,0.7,0.8,0.9,1], "labelOverlap": false, "labelExpr": "replace(format(datum.value, '.1f'), '.', '. ')"}},
    "color": {"field": "group", "type": "nominal", "title": null, "scale": {"domain": ["Absence","Presence"], "range": ["#4b5bb0","#e03035"]}, "legend": {"labelExpr": "datum.label + ' of urgency'"}}}},
  {"data": {"name": "info"}, "transform": [{"filter": "datum.panel == 'B3'"}], "mark": {"type": "text", "align": "left", "baseline": "middle", "font": "Lato", "fontSize": 12.5, "fontWeight": "bold", "color": "#222"},
   "encoding": {"x": {"datum": -0.2, "axis": {"title": "Time to Symptomatic Response", "values": [0,2,4,6,8,10,12]}}, "y": {"datum": 0.947, "axis": {"title": "Proportion of patients", "values": [0,0.1,0.2,0.3,0.4,0.5,0.6,0.7,0.8,0.9,1], "labelOverlap": false, "labelExpr": "replace(format(datum.value, '.1f'), '.', '. ')"}}, "text": {"field": "week"}}},
  {"data": {"name": "info"}, "transform": [{"filter": "datum.panel == 'B3'"}], "mark": {"type": "text", "align": "left", "baseline": "middle", "font": "Liberation Sans", "fontSize": 11.5, "color": "#333"},
   "encoding": {"x": {"datum": -0.2, "axis": {"title": "Time to Symptomatic Response", "values": [0,2,4,6,8,10,12]}}, "y": {"datum": 0.874, "axis": {"title": "Proportion of patients", "values": [0,0.1,0.2,0.3,0.4,0.5,0.6,0.7,0.8,0.9,1], "labelOverlap": false, "labelExpr": "replace(format(datum.value, '.1f'), '.', '. ')"}}, "text": {"field": "pval"}}}
 ]},
 {"width": 340, "height": 210, "layer": [
  {"data": {"name": "km"}, "transform": [{"filter": "datum.panel == 'B4'"}], "mark": {"type": "line", "interpolate": "step-after", "strokeWidth": 1.1},
   "encoding": {"x": {"field": "t", "type": "quantitative", "scale": {"domain": [-0.65, 12.1], "nice": false, "zero": false}, "axis": {"title": "Time to Symptomatic Response", "values": [0,2,4,6,8,10,12]}},
    "y": {"field": "p", "type": "quantitative", "scale": {"domain": [-0.06, 1.05], "nice": false, "zero": false}, "axis": {"title": "Proportion of patients", "values": [0,0.1,0.2,0.3,0.4,0.5,0.6,0.7,0.8,0.9,1], "labelOverlap": false, "labelExpr": "replace(format(datum.value, '.1f'), '.', '. ')"}},
    "color": {"field": "group", "type": "nominal", "title": null, "scale": {"domain": ["Absence","Presence"], "range": ["#4b5bb0","#e03035"]}, "legend": {"labelExpr": "datum.label + ' of urgency'"}}}},
  {"data": {"name": "info"}, "transform": [{"filter": "datum.panel == 'B4'"}], "mark": {"type": "text", "align": "left", "baseline": "middle", "font": "Lato", "fontSize": 12.5, "fontWeight": "bold", "color": "#222"},
   "encoding": {"x": {"datum": -0.2, "axis": {"title": "Time to Symptomatic Response", "values": [0,2,4,6,8,10,12]}}, "y": {"datum": 0.947, "axis": {"title": "Proportion of patients", "values": [0,0.1,0.2,0.3,0.4,0.5,0.6,0.7,0.8,0.9,1], "labelOverlap": false, "labelExpr": "replace(format(datum.value, '.1f'), '.', '. ')"}}, "text": {"field": "week"}}},
  {"data": {"name": "info"}, "transform": [{"filter": "datum.panel == 'B4'"}], "mark": {"type": "text", "align": "left", "baseline": "middle", "font": "Liberation Sans", "fontSize": 11.5, "color": "#333"},
   "encoding": {"x": {"datum": -0.2, "axis": {"title": "Time to Symptomatic Response", "values": [0,2,4,6,8,10,12]}}, "y": {"datum": 0.874, "axis": {"title": "Proportion of patients", "values": [0,0.1,0.2,0.3,0.4,0.5,0.6,0.7,0.8,0.9,1], "labelOverlap": false, "labelExpr": "replace(format(datum.value, '.1f'), '.', '. ')"}}, "text": {"field": "pval"}}}
 ]}
]}
],
"config": {
 "view": {"stroke": "#888", "strokeWidth": 1.5},
 "axis": {"grid": false, "domain": false, "ticks": false, "labelFont": "Liberation Sans", "labelFontSize": 11, "labelColor": "#555", "titleFont": "Lato", "titleFontSize": 13, "titleFontWeight": "bold", "titleColor": "#222"},
 "axisX": {"labelPadding": 6, "titlePadding": 2},
 "axisY": {"labelPadding": 5, "titlePadding": 6},
 "legend": {"orient": "top-right", "symbolType": "stroke", "symbolStrokeWidth": 2, "symbolSize": 160, "labelFont": "Lato", "labelFontSize": 9, "labelFontWeight": "bold", "labelColor": "#222", "rowPadding": 2, "offset": 12, "padding": 0},
 "title": {"anchor": "start", "font": "Liberation Sans", "fontSize": 18, "fontWeight": "bold", "color": "#111", "offset": 6}
}
}
